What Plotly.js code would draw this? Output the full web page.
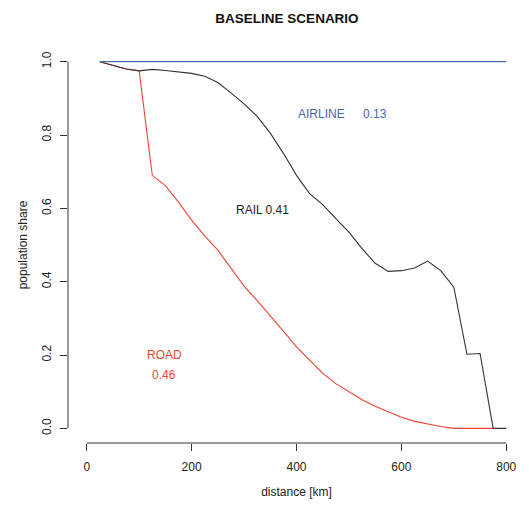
<!DOCTYPE html>
<html>
<head>
<meta charset="utf-8">
<script src="https://cdn.plot.ly/plotly-3.0.1.min.js"></script>
<style>html,body{margin:0;padding:0;background:#fff;}#chart{width:529px;height:505px;}</style>
</head>
<body>
<div id="chart"></div>
<script>
// distance grid (km)
const distance = [25,50,75,100,125,150,175,200,225,250,275,300,325,350,375,400,425,450,475,500,525,550,575,600,625,650,675,700,725,750,775,800];
// cumulative share: road + rail (black)
const railCum = [1.0,0.99,0.98,0.975,0.979,0.976,0.973,0.968,0.960,0.943,0.915,0.885,0.851,0.805,0.750,0.690,0.640,0.610,0.572,0.535,0.490,0.450,0.428,0.430,0.437,0.456,0.430,0.385,0.202,0.204,0.0,0.0];
// road share (red)
const roadDist = [25,50,75,100,125,150,175,200,225,250,275,300,325,350,375,400,425,450,475,500,525,550,575,600,625,650,675,700,725,750,775];
const roadShare = [1.0,0.99,0.98,0.975,0.69,0.662,0.617,0.568,0.525,0.486,0.437,0.388,0.348,0.308,0.265,0.222,0.185,0.150,0.122,0.100,0.078,0.060,0.045,0.030,0.019,0.011,0.005,0.0,0.0,0.0,0.0];
// airline cumulative (blue)
const airDist = [25,800];
const airCum = [1.0,1.0];
const xTicks = [0,200,400,600,800];
const yTicks = [0,0.2,0.4,0.6,0.8,1.0];
const yTickText = ["0.0","0.2","0.4","0.6","0.8","1.0"];
const labels = [
  {text:"AIRLINE", x:447, y:0.857, color:"#3f68a6"},
  {text:"0.13", x:549, y:0.857, color:"#3f68a6"},
  {text:"RAIL 0.41", x:336, y:0.595, color:"#222222"},
  {text:"ROAD", x:148, y:0.200, color:"#ee4433"},
  {text:"0.46", x:148, y:0.145, color:"#ee4433"}
];

const font = "Liberation Sans, Arial, sans-serif";
const traces = [
  {x:roadDist, y:roadShare, mode:"lines", line:{color:"#ee4433", width:1.1}, hoverinfo:"skip"},
  {x:distance, y:railCum, mode:"lines", line:{color:"#333333", width:1.1}, hoverinfo:"skip"},
  {x:airDist, y:airCum, mode:"lines", line:{color:"#4a70aa", width:1.1}, hoverinfo:"skip"}
];

const layout = {
  width:529, height:505,
  margin:{l:68, r:4, t:47, b:62},
  paper_bgcolor:"#fff", plot_bgcolor:"#fff",
  showlegend:false,
  font:{family:font, size:12, color:"#222"},
  title:{text:"<b>BASELINE SCENARIO</b>", font:{family:font, size:13.5, color:"#111"},
         x:287/529, xref:"container", xanchor:"center", y:1-18/505, yref:"container", yanchor:"middle"},
  xaxis:{range:[-35.7,835.7], tickvals:xTicks, ticks:"outside", ticklen:7, tickcolor:"#333",
         showgrid:false, zeroline:false, showline:false, ticklabelstandoff:6,
         tickfont:{family:font, size:12, color:"#222"},
         title:{text:"distance [km]", font:{family:font, size:12, color:"#222"}, standoff:14}},
  yaxis:{range:[-0.04,1.04], tickvals:yTicks, ticktext:yTickText, tickangle:-90, ticks:"outside", ticklen:7, tickcolor:"#333",
         showgrid:false, zeroline:false, showline:false, ticklabelstandoff:4,
         tickfont:{family:font, size:12, color:"#222"},
         title:{text:"population share", font:{family:font, size:12, color:"#222"}, standoff:10}},
  shapes:[
    {type:"line", xref:"x", yref:"paper", x0:0, x1:800, y0:0, y1:0, line:{color:"#333", width:1}},
    {type:"line", xref:"paper", yref:"y", x0:0, x1:0, y0:0, y1:1, line:{color:"#333", width:1}}
  ],
  annotations: labels.map(l => ({text:l.text, x:l.x, y:l.y, xref:"x", yref:"y", showarrow:false,
     xanchor:"center", yanchor:"middle", font:{family:font, size:12, color:l.color}}))
};

Plotly.newPlot("chart", traces, layout, {staticPlot:true, displayModeBar:false});
</script>
</body>
</html>
